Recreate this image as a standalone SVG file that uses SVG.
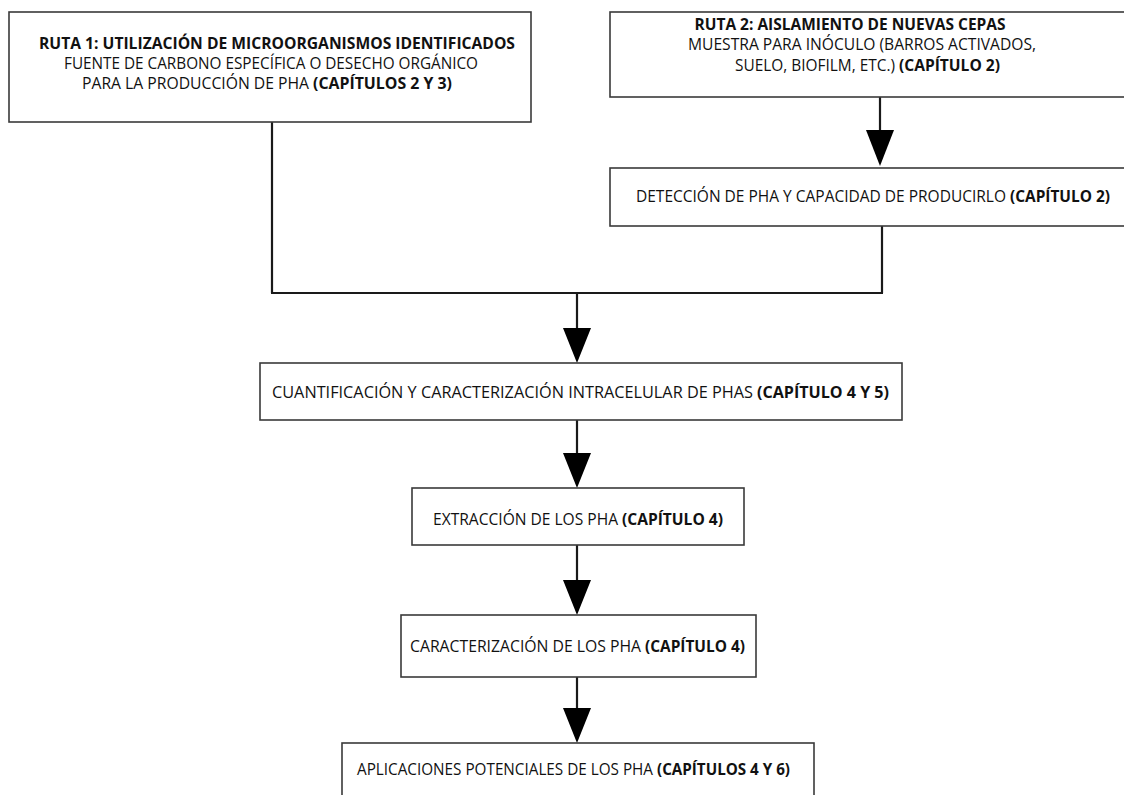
<svg xmlns="http://www.w3.org/2000/svg" width="1124" height="795" viewBox="0 0 1124 795">
<defs>
<style>
.box{fill:#fff;stroke:#3a3a3a;stroke-width:1.6}
.t{font-family:"Open Sans","Liberation Sans",sans-serif;font-size:16px;fill:#111;text-anchor:middle}
.s{font-family:"Open Sans","Liberation Sans",sans-serif;font-size:16px;fill:#111;text-anchor:start}
.b{font-weight:bold}
.ln{fill:none;stroke:#1a1a1a;stroke-width:2.2}
.ah{fill:#000}
</style>
</defs>
<rect width="1124" height="795" fill="#fff"/>
<g id="connectors">
<line class="ln" x1="272" y1="122" x2="272" y2="293"/>
<line class="ln" x1="882" y1="226" x2="882" y2="293"/>
<line class="ln" x1="271" y1="293" x2="883" y2="293"/>
<line class="ln" x1="577" y1="293" x2="577" y2="330"/>
<polygon class="ah" points="563,328 591,328 577,363"/>
<line class="ln" x1="880" y1="97" x2="880" y2="132"/>
<polygon class="ah" points="866,130 894,130 880,166"/>
<line class="ln" x1="577" y1="420" x2="577" y2="455"/>
<polygon class="ah" points="563,453 591,453 577,488"/>
<line class="ln" x1="577" y1="545" x2="577" y2="582"/>
<polygon class="ah" points="563,580 591,580 577,615"/>
<line class="ln" x1="577" y1="677" x2="577" y2="710"/>
<polygon class="ah" points="563,708 591,708 577,743"/>
</g>
<g id="ruta1">
<rect class="box" x="9" y="12" width="522" height="110"/>
<text class="t b" x="277" y="49" textLength="476" lengthAdjust="spacingAndGlyphs">RUTA 1: UTILIZACIÓN DE MICROORGANISMOS IDENTIFICADOS</text>
<text class="t" x="271" y="69" textLength="414" lengthAdjust="spacingAndGlyphs">FUENTE DE CARBONO ESPECÍFICA O DESECHO ORGÁNICO</text>
<text class="s" x="82" y="89" textLength="227" lengthAdjust="spacingAndGlyphs">PARA LA PRODUCCIÓN DE PHA</text>
<text class="s b" x="313" y="89" textLength="139" lengthAdjust="spacingAndGlyphs">(CAPÍTULOS 2 Y 3)</text>
</g>
<g id="ruta2">
<rect class="box" x="610" y="12" width="520" height="85"/>
<text class="t b" x="850" y="30" textLength="311" lengthAdjust="spacingAndGlyphs">RUTA 2: AISLAMIENTO DE NUEVAS CEPAS</text>
<text class="t" x="862" y="50" textLength="348" lengthAdjust="spacingAndGlyphs">MUESTRA PARA INÓCULO (BARROS ACTIVADOS,</text>
<text class="s" x="735" y="71" textLength="160" lengthAdjust="spacingAndGlyphs">SUELO, BIOFILM, ETC.)</text>
<text class="s b" x="899" y="71" textLength="101" lengthAdjust="spacingAndGlyphs">(CAPÍTULO 2)</text>
</g>
<g id="deteccion">
<rect class="box" x="610" y="168" width="520" height="58"/>
<text class="s" x="636" y="202" textLength="370" lengthAdjust="spacingAndGlyphs">DETECCIÓN DE PHA Y CAPACIDAD DE PRODUCIRLO</text>
<text class="s b" x="1010" y="202" textLength="100" lengthAdjust="spacingAndGlyphs">(CAPÍTULO 2)</text>
</g>
<g id="cuantificacion">
<rect class="box" x="260" y="363" width="642" height="57"/>
<text class="s" x="272" y="398" textLength="481" lengthAdjust="spacingAndGlyphs">CUANTIFICACIÓN Y CARACTERIZACIÓN INTRACELULAR DE PHAS</text>
<text class="s b" x="757" y="398" textLength="132" lengthAdjust="spacingAndGlyphs">(CAPÍTULO 4 Y 5)</text>
</g>
<g id="extraccion">
<rect class="box" x="412" y="488" width="332" height="57"/>
<text class="s" x="433" y="525" textLength="185" lengthAdjust="spacingAndGlyphs">EXTRACCIÓN DE LOS PHA</text>
<text class="s b" x="622" y="525" textLength="101" lengthAdjust="spacingAndGlyphs">(CAPÍTULO 4)</text>
</g>
<g id="caracterizacion">
<rect class="box" x="401" y="615" width="355" height="62"/>
<text class="s" x="410" y="652" textLength="231" lengthAdjust="spacingAndGlyphs">CARACTERIZACIÓN DE LOS PHA</text>
<text class="s b" x="645" y="652" textLength="100" lengthAdjust="spacingAndGlyphs">(CAPÍTULO 4)</text>
</g>
<g id="aplicaciones">
<rect class="box" x="342" y="743" width="472" height="60"/>
<text class="s" x="357" y="775" textLength="296" lengthAdjust="spacingAndGlyphs">APLICACIONES POTENCIALES DE LOS PHA</text>
<text class="s b" x="657" y="775" textLength="133" lengthAdjust="spacingAndGlyphs">(CAPÍTULOS 4 Y 6)</text>
</g>
</svg>
